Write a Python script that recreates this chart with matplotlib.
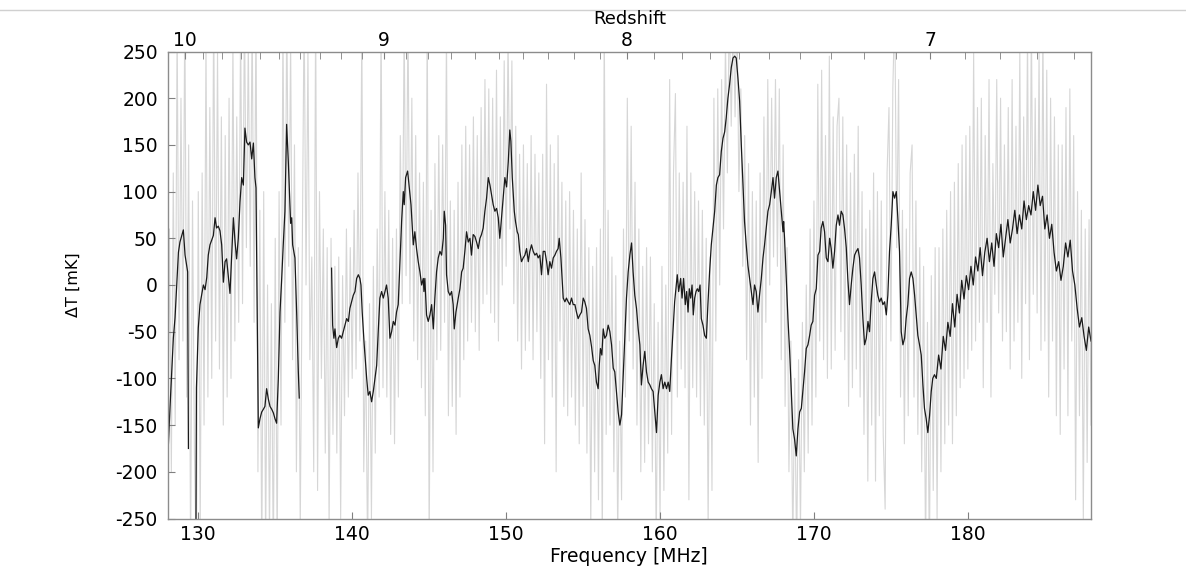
import numpy as np
import matplotlib
matplotlib.use('Agg')
import matplotlib.pyplot as plt
from matplotlib.lines import Line2D

plt.rcParams['font.family'] = ['DejaVu Sans']
plt.rcParams['axes.unicode_minus'] = False

# smoothed spectrum (black); nan = gap
black_f = [128.06, 128.16, 128.38, 128.49, 128.60, 128.71, 128.81, 129.03, 129.14, 129.31, 129.36, 129.60,
           129.84, 129.88, 130.00, 130.11, 130.33, 130.44, 130.55, 130.65, 130.76, 130.98, 131.09, 131.19,
           131.30, 131.41, 131.52, 131.63, 131.74, 131.84, 131.95, 132.06, 132.17, 132.28, 132.39, 132.49,
           132.60, 132.71, 132.82, 132.93, 133.03, 133.14, 133.25, 133.36, 133.47, 133.58, 133.68, 133.75,
           133.90, 134.01, 134.12, 134.23, 134.33, 134.44, 134.55, 134.66, 134.77, 134.88, 134.98, 135.09,
           135.20, 135.31, 135.42, 135.52, 135.63, 135.74, 135.85, 135.96, 136.00, 136.07, 136.13, 136.28,
           136.39, 136.50, 136.56, 136.60,
           138.66, 138.73, 138.81, 138.88, 138.99, 139.10, 139.20, 139.31, 139.42, 139.53, 139.64, 139.75,
           139.85, 139.96, 140.07, 140.18, 140.29, 140.40, 140.50, 140.57, 140.65, 140.78, 140.94, 141.04,
           141.15, 141.26, 141.37, 141.48, 141.59, 141.69, 141.80, 141.91, 142.02, 142.13, 142.23, 142.34,
           142.45, 142.56, 142.67, 142.78, 142.88, 142.99, 143.10, 143.21, 143.32, 143.38, 143.47, 143.60,
           143.69, 143.82, 143.97, 144.07, 144.18, 144.29, 144.40, 144.51, 144.62, 144.66, 144.72, 144.83,
           144.94, 145.05, 145.16, 145.27, 145.37, 145.48, 145.59, 145.70, 145.81, 145.92, 145.98, 146.07,
           146.13, 146.24, 146.35, 146.46, 146.56, 146.63, 146.74, 146.89, 147.00, 147.11, 147.21, 147.32,
           147.43, 147.54, 147.65, 147.75, 147.86, 147.97, 148.08, 148.19, 148.30, 148.40, 148.51, 148.62,
           148.73, 148.84, 148.95, 149.05, 149.16, 149.27, 149.38, 149.49, 149.59, 149.66, 149.77, 149.92,
           150.03, 150.14, 150.24, 150.31, 150.40, 150.53, 150.61, 150.72, 150.79, 150.89, 151.00, 151.11,
           151.22, 151.33, 151.44, 151.54, 151.65, 151.76, 151.87, 151.98, 152.08, 152.19, 152.30, 152.41,
           152.52, 152.63, 152.73, 152.84, 152.95, 153.06, 153.17, 153.27, 153.38, 153.45, 153.56, 153.64,
           153.71, 153.82, 153.92, 154.03, 154.14, 154.25, 154.36, 154.47, 154.57, 154.68, 154.79, 154.90,
           155.01, 155.11, 155.22, 155.33, 155.44, 155.55, 155.66, 155.76, 155.87, 155.98, 156.05, 156.13,
           156.22, 156.31, 156.41, 156.52, 156.63, 156.74, 156.85, 156.96, 157.06, 157.17, 157.28, 157.39,
           157.50, 157.60, 157.71, 157.82, 157.93, 158.04, 158.15, 158.25, 158.36, 158.47, 158.58, 158.69,
           158.79, 158.90, 159.01, 159.12, 159.23, 159.34, 159.44, 159.55, 159.66, 159.77, 159.88, 159.99,
           160.09, 160.20, 160.31, 160.42, 160.53, 160.63, 160.74, 160.85, 160.95, 161.06, 161.12, 161.21,
           161.34, 161.43, 161.53, 161.64, 161.73, 161.82, 161.90, 161.99, 162.08, 162.16, 162.25, 162.34,
           162.42, 162.51, 162.60, 162.68, 162.79, 162.90, 163.01, 163.11, 163.22, 163.33, 163.44, 163.55,
           163.66, 163.76, 163.87, 163.98, 164.09, 164.20, 164.30, 164.41, 164.52, 164.63, 164.74, 164.85,
           164.95, 165.06, 165.17, 165.28, 165.39, 165.49, 165.60, 165.71, 165.82, 165.93, 166.04, 166.14,
           166.25, 166.36, 166.47, 166.58, 166.69, 166.79, 166.90, 167.01, 167.12, 167.23, 167.34, 167.44,
           167.55, 167.66, 167.77, 167.88, 167.99, 168.03, 168.09, 168.20, 168.31, 168.42, 168.53, 168.63,
           168.74, 168.85, 168.96, 169.07, 169.18, 169.28, 169.39, 169.50, 169.61, 169.72, 169.82, 169.93,
           170.04, 170.15, 170.26, 170.37, 170.47, 170.58, 170.69, 170.80, 170.91, 171.02, 171.12, 171.23,
           171.34, 171.45, 171.56, 171.66, 171.77, 171.88, 171.99, 172.10, 172.20, 172.31, 172.42, 172.53,
           172.64, 172.75, 172.86, 172.96, 173.07, 173.18, 173.29, 173.40, 173.51, 173.61, 173.72, 173.83,
           173.94, 174.05, 174.15, 174.26, 174.37, 174.48, 174.59, 174.70, 174.80, 174.91, 175.02, 175.13,
           175.24, 175.35, 175.45, 175.56, 175.67, 175.78, 175.89, 175.99, 176.10, 176.21, 176.32, 176.43,
           176.54, 176.64, 176.75, 176.86, 176.97, 177.08, 177.18, 177.29, 177.40, 177.51, 177.62, 177.72,
           177.83, 177.95, 178.10, 178.25, 178.40, 178.55, 178.70, 178.85, 179.00, 179.15, 179.30, 179.45,
           179.60, 179.75, 179.90, 180.05, 180.20, 180.35, 180.50, 180.65, 180.80, 180.95, 181.10, 181.25,
           181.40, 181.55, 181.70, 181.85, 182.00, 182.15, 182.30, 182.45, 182.60, 182.75, 182.90, 183.05,
           183.20, 183.35, 183.50, 183.65, 183.80, 183.95, 184.10, 184.25, 184.40, 184.55, 184.70, 184.85,
           185.00, 185.15, 185.30, 185.45, 185.60, 185.75, 185.90, 186.05, 186.20, 186.35, 186.50, 186.65,
           186.80, 186.95, 187.10, 187.25, 187.40, 187.55, 187.70, 187.85, 188.00]
black_v = [-170, -132, -57, -35, 0, 35, 46, 59, 32, 14, -175, np.nan,
           -300, -110, -46, -21, 0, -5, 8, 32, 43, 53, 72, 61,
           63, 58, 43, 3, 25, 28, 10, -9, 32, 72, 46, 28,
           50, 89, 115, 107, 168, 153, 150, 153, 135, 152, 115, 104,
           -153, -143, -136, -133, -130, -111, -122, -130, -133, -137, -143, -148,
           -100, -29, 7, 43, 79, 172, 132, 83, 66, 72, 43, 29,
           -29, -93, -121, np.nan,
           18, -43, -57, -47, -67, -57, -54, -57, -50, -43, -36, -39,
           -25, -18, -11, -7, 7, 11, 7, 0, -29, -64, -100, -118,
           -114, -125, -114, -100, -86, -50, -14, -7, -14, -7, 0, -14,
           -57, -50, -39, -43, -29, -21, 25, 68, 100, 86, 115, 122,
           107, 86, 43, 57, 39, 25, 14, 0, 7, -7, 7, -32,
           -39, -32, -21, -47, -14, 14, 29, 36, 32, 50, 79, 64,
           11, -7, -11, -7, -21, -47, -29, -14, -4, 14, 18, 36,
           57, 46, 50, 32, 54, 52, 46, 39, 50, 54, 61, 79,
           93, 115, 107, 97, 86, 79, 82, 72, 50, 64, 86, 115,
           105, 132, 166, 154, 115, 79, 68, 57, 54, 36, 25, 29,
           32, 39, 25, 36, 43, 36, 32, 34, 29, 32, 11, 36,
           36, 25, 11, 25, 18, 29, 32, 36, 39, 50, 29, 7,
           -14, -18, -14, -18, -21, -14, -21, -21, -29, -36, -32, -29,
           -14, -18, -25, -47, -54, -66, -81, -86, -104, -111, -86, -68,
           -75, -47, -57, -54, -43, -50, -64, -89, -93, -114, -136, -150,
           -139, -100, -57, -14, 14, 32, 45, 14, -11, -25, -47, -64,
           -107, -86, -71, -93, -104, -107, -111, -114, -136, -158, -118, -104,
           -96, -111, -104, -111, -104, -114, -79, -47, -18, 0, 11, -7,
           7, -14, 7, -21, -7, -29, -4, -14, 0, -32, -14, -7,
           -4, -7, 0, -36, -43, -54, -57, -21, 14, 43, 61, 79,
           107, 115, 118, 143, 157, 164, 179, 200, 215, 233, 243, 245,
           243, 222, 197, 150, 107, 68, 43, 21, 7, -7, -21, 0,
           -7, -29, -10, 7, 29, 43, 61, 79, 86, 100, 115, 93,
           115, 122, 100, 79, 57, 68, 50, 7, -36, -71, -114, -154,
           -165, -183, -154, -136, -132, -114, -93, -68, -64, -54, -43, -39,
           -11, -4, 32, 36, 61, 68, 57, 29, 25, 50, 39, 18,
           36, 64, 75, 64, 79, 75, 60, 40, 7, -21, 0, 18,
           32, 36, 39, 29, 0, -36, -64, -57, -39, -50, -18, 7,
           14, 0, -11, -18, -14, -21, -18, -32, -11, 36, 64, 100,
           93, 100, 72, 36, -50, -64, -57, -36, -21, 7, 14, 7,
           -11, -32, -54, -64, -75, -107, -132, -143, -158, -140, -114, -100,
           -96, -100, -75, -90, -55, -70, -40, -55, -20, -45, -10, -30,
           5, -15, 10, -5, 20, 0, 30, 15, 40, 10, 35, 50,
           25, 45, 20, 55, 40, 65, 30, 50, 70, 45, 60, 80,
           55, 75, 60, 90, 70, 85, 75, 100, 80, 107, 85, 95,
           60, 75, 50, 65, 35, 15, 25, 5, 20, 45, 30, 48,
           15, 0, -25, -45, -35, -55, -70, -45, -60]

# raw spectrum (grey), one value every 0.125 MHz from 128 to 188 MHz
gray_v = [-250, 60, -200, 120, -150, 280, -80, 200,
          -60, 300, -120, 150, -290, 90, -180, -300,
          100, -260, 120, -150, 260, -120, 190, -100,
          300, -60, 250, -90, 180, -150, 160, -120,
          200, -100, 260, -60, 180, -40, 280, -20,
          300, 40, 260, 20, 290, -40, 300, -200,
          80, -300, 100, -280, 0, -270, -20, -300,
          50, -290, 100, -150, 280, -40, 300, 20,
          260, -80, 150, -200, 40, -260, 20, 300,
          0, 250, -80, 30, -200, 300, -220, 100,
          -100, 60, -180, 40, -260, 50, -160, 20,
          -180, 30, -250, 10, -140, 60, -120, 40,
          -100, 80, -90, 120, -60, 280, -200, -60,
          -290, -20, -250, 20, -180, 60, -120, 290,
          -110, 100, -120, 80, -160, 50, -170, 60,
          -120, 160, -20, 280, 10, 290, -20, 200,
          -60, 160, -80, 120, -110, 110, -140, 290,
          -280, 80, -200, 130, -80, 160, -70, 150,
          -40, 270, -140, 90, -130, 80, -160, 110,
          -120, 150, -80, 170, -60, 150, -40, 180,
          -50, 160, -70, 190, -20, 220, -10, 210,
          -30, 200, -40, 230, -60, 180, 0, 240,
          20, 270, 60, 240, -20, 170, -60, 140,
          -90, 150, -70, 130, -60, 160, -80, 140,
          -50, 120, -100, 140, -170, 215, -80, 150,
          -120, 130, -200, 160, -60, 110, -130, 90,
          -140, 100, -120, 80, -150, 60, -170, 120,
          -130, 70, -180, 40, -260, 20, -200, 40,
          -230, 60, -280, 290, -160, 80, -150, 30,
          -200, 10, -270, -60, -230, 60, -120, 200,
          -60, 170, -90, 110, -150, 60, -200, 20,
          -190, 40, -170, 30, -200, -20, -280, -40,
          -250, 20, -220, 0, -180, 220, -160, 120,
          205, -120, 120, -90, 110, -110, 170, -230,
          120, -110, 100, -120, 90, -140, 80, -150,
          50, -260, 30, -220, 200, -60, 210, 0,
          220, 60, 260, 120, 300, 170, 290, 180,
          300, 100, 210, 20, 160, -80, 130, -150,
          100, -120, 90, -190, 120, -100, 180, -40,
          220, 0, 200, 30, 220, 20, 210, -80,
          150, -130, 40, -200, -60, -280, -100, -290,
          -80, -260, -40, -200, 0, -180, 60, -150,
          90, -120, 215, -60, 230, -80, 160, -100,
          245, -90, 180, -70, 170, 200, -50, 180,
          -80, 150, -130, 120, -110, 140, -90, 170,
          -120, 100, -160, 60, -210, 80, -150, 120,
          -210, 100, -140, 90, -160, -240, 120, 190,
          -60, 210, 300, 40, 220, -120, 80, -170,
          60, -140, 120, 150, -120, 90, -160, 40,
          -200, 20, -290, -40, -300, 10, -220, 40,
          -250, 40, -200, 60, -170, 80, -150, 100,
          -170, 110, -140, 130, -110, 150, -100, 160,
          -90, 170, -70, 250, -60, 190, -40, 200,
          -110, 160, -40, 220, -120, 130, -10, 220,
          -30, 200, -60, 150, -50, 190, -90, 220,
          -60, 170, -40, 250, -100, 180, -20, 270,
          -80, 290, -10, 200, -30, 250, -70, 280,
          -60, 230, -120, 200, -60, 180, -140, 150,
          -160, 150, -90, 190, -140, 210, -60, 160,
          -230, 100, -140, 80, -250, 60, -190, 70,
          -150]
gray_f = 128 + 0.125 * np.arange(len(gray_v))

x_ticks = [130, 140, 150, 160, 170, 180]
y_ticks = [250, 200, 150, 100, 50, 0, -50, -100, -150, -200, -250]
z_labels = [10, 9, 8, 7]

fig = plt.figure(figsize=(11.86, 5.8), dpi=100)
ax = fig.add_axes([167.5 / 1186, 1 - 518.5 / 580, (1091 - 167.5) / 1186, 467 / 580])

ax.plot(gray_f, gray_v, color='#d6d6d6', lw=0.8, zorder=1)
ax.plot(black_f, black_v, color='#1a1a1a', lw=0.9, zorder=2)

ax.set_xlim(128, 188)
ax.set_ylim(-250, 250)
ax.set_xticks(x_ticks)
ax.set_yticks(y_ticks)
ax.tick_params(direction='in', length=5, color='#808080', labelsize=13.5, pad=5)
ax.tick_params(axis='y', pad=7)
for s in ax.spines.values():
    s.set_color('#8c8c8c')
    s.set_linewidth(1.0)

ax.set_xlabel('Frequency [MHz]', fontsize=13.5)
ax.xaxis.label.set_va('center')
ax.xaxis.set_label_coords(0.5, -0.082)
ax.set_ylabel('ΔT [mK]', fontsize=11.5)
ax.yaxis.label.set_va('center')
ax.yaxis.set_label_coords(-0.102, 0.5)

# redshift axis on top
nu21 = 1420.4
ax2 = ax.twiny()
ax2.set_xlim(ax.get_xlim())
ax2.set_xticks([nu21 / (1 + z) for z in z_labels])
ax2.set_xticklabels([str(z) for z in z_labels])
z_minor = [round(6.6 + 0.1 * i, 1) for i in range(35)]
ax2.set_xticks([nu21 / (1 + z) for z in z_minor], minor=True)
ax2.tick_params(which='both', direction='in', length=5, color='#808080', labelsize=13.5, pad=1)
for s in ax2.spines.values():
    s.set_visible(False)

fig.text(630 / 1186, 1 - 19 / 580, 'Redshift', ha='center', va='center', fontsize=13)
fig.add_artist(Line2D([0, 1], [1 - 10 / 580, 1 - 10 / 580], color='#d0d0d0', lw=1))

fig.savefig('out.png', dpi=100)
